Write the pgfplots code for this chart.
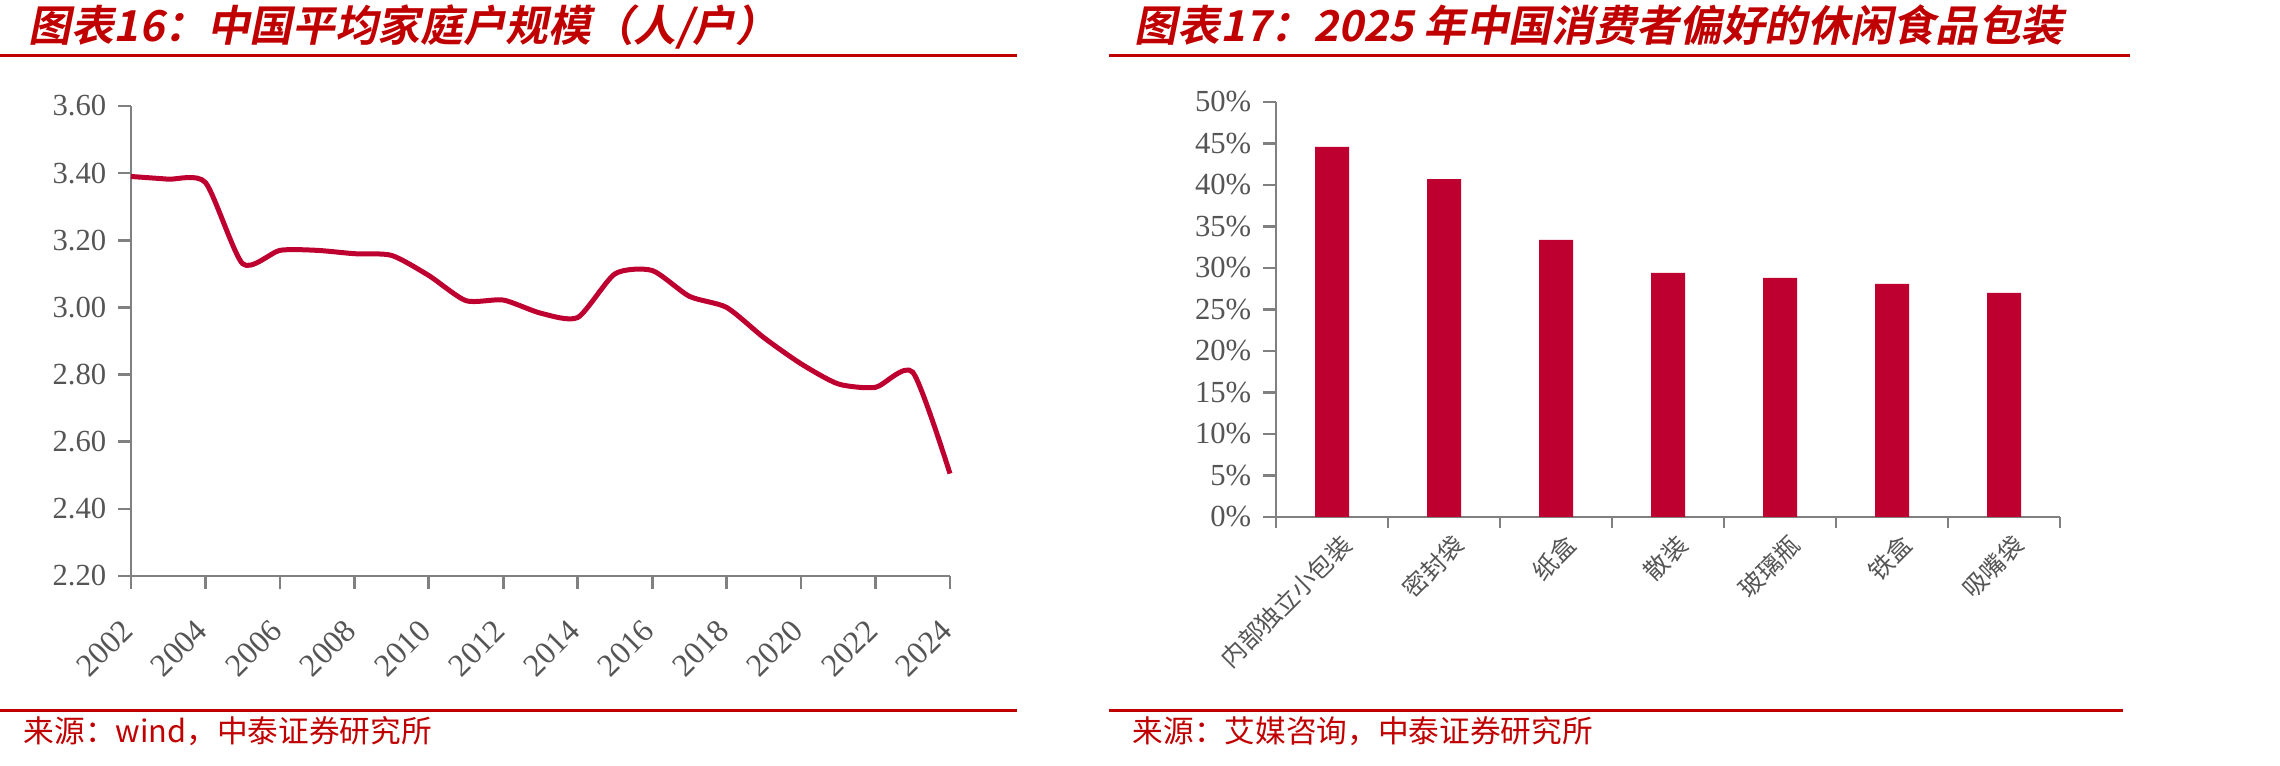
\documentclass[border=0pt]{standalone}
\usepackage{pgfplots}
\pgfplotsset{compat=1.18}
\usepackage{fontspec}
\setmainfont{Liberation Serif}
\newfontfamily\cjk{Noto Sans CJK SC}
\newfontfamily\cjkt{Noto Sans CJK SC}[UprightFont={* Bold}, FakeSlant=0.2]
\definecolor{titred}{RGB}{192,0,0}
\definecolor{barred}{RGB}{190,0,48}
\definecolor{axisgray}{RGB}{128,128,128}
\definecolor{labgray}{RGB}{85,85,85}
\begin{document}
\begin{tikzpicture}[x=0.3pt,y=0.3pt]
\useasboundingbox (0,0) rectangle (2280,766);
% titles
\node[anchor=base west, inner sep=0pt, text=titred, font=\cjkt\fontsize{12.8}{13}\selectfont] at (28,724) {图表16：中国平均家庭户规模（人/户）};
\node[anchor=base west, inner sep=0pt, text=titred, font=\cjkt\fontsize{12.8}{13}\selectfont] at (1134,724) {图表17：2025 年中国消费者偏好的休闲食品包装};
\draw[titred, line width=0.9pt] (0,710) -- (1017,710);
\draw[titred, line width=0.9pt] (1109,710) -- (2130,710);
\draw[titred, line width=0.9pt] (0,55) -- (1017,55);
\draw[titred, line width=0.9pt] (1109,55) -- (2123,55);
% sources
\node[anchor=base west, inner sep=0pt, text=titred, font=\cjk\fontsize{9.2}{10}\selectfont] at (23,23) {来源：wind，中泰证券研究所};
\node[anchor=base west, inner sep=0pt, text=titred, font=\cjk\fontsize{9.2}{10}\selectfont] at (1132,23) {来源：艾媒咨询，中泰证券研究所};

\begin{axis}[
  at={(39.3pt,57pt)}, anchor=south west, scale only axis,
  width=245.7pt, height=141pt,
  xmin=2002, xmax=2024, ymin=2.2, ymax=3.6,
  axis x line*=bottom, axis y line*=left,
  axis line style={draw=axisgray, line width=0.8pt, -},
  xtick={2002,2004,2006,2008,2010,2012,2014,2016,2018,2020,2022,2024},
  ytick={2.2,2.4,2.6,2.8,3.0,3.2,3.4,3.6},
  tick align=outside, major tick length=3.9pt,
  tick style={draw=axisgray, line width=0.8pt},
  /pgf/number format/assume math mode=true,
  tick label style={font=\fontsize{9.2}{10}\selectfont, text=labgray},
  xticklabel style={rotate=45, anchor=east, yshift=-7pt, xshift=-5pt, font=\fontsize{9.6}{10}\selectfont, /pgf/number format/1000 sep={}},
  yticklabel style={/pgf/number format/.cd, fixed, fixed zerofill, precision=2},
  clip=false,
]
\addplot[barred, line width=1.5pt, smooth, tension=0.4] coordinates {
(2002,3.39)(2003,3.382)(2004,3.372)(2005,3.13)(2006,3.17)(2007,3.17)(2008,3.16)
(2009,3.155)(2010,3.095)(2011,3.02)(2012,3.022)(2013,2.983)(2014,2.97)(2015,3.10)
(2016,3.11)(2017,3.033)(2018,3.00)(2019,2.91)(2020,2.832)(2021,2.772)(2022,2.762)
(2023,2.807)(2024,2.505)};
\end{axis}

\begin{axis}[
  at={(382.8pt,74.7pt)}, anchor=south west, scale only axis,
  width=235.2pt, height=124.5pt,
  xmin=-0.5, xmax=6.5, ymin=0, ymax=50,
  axis x line*=bottom, axis y line*=left,
  axis line style={draw=axisgray, line width=0.8pt, -},
  xtick={0,1,2,3,4,5,6},
  xticklabels={内部独立小包装,密封袋,纸盒,散装,玻璃瓶,铁盒,吸嘴袋},
  minor xtick={-0.5,0.5,1.5,2.5,3.5,4.5,5.5,6.5},
  ytick={0,5,10,15,20,25,30,35,40,45,50},
  yticklabel={\pgfmathprintnumber{\tick}\%},
  tick align=outside, major tick length=3.9pt, minor tick length=3.2pt,
  tick style={draw=axisgray, line width=0.8pt},
  major x tick style={draw=none},
  /pgf/number format/assume math mode=true,
  tick label style={font=\fontsize{9.2}{10}\selectfont, text=labgray},
  xticklabel style={rotate=45, anchor=east, font=\cjk\fontsize{7.4}{8}\selectfont, xshift=4.5pt, yshift=-5.5pt},
  ybar, bar width=10.2pt, bar shift=0pt,
]
\addplot[fill=barred, draw=none] coordinates {
(0,44.6)(1,40.7)(2,33.4)(3,29.4)(4,28.8)(5,28.1)(6,27.0)};
\end{axis}
\end{tikzpicture}
\end{document}
